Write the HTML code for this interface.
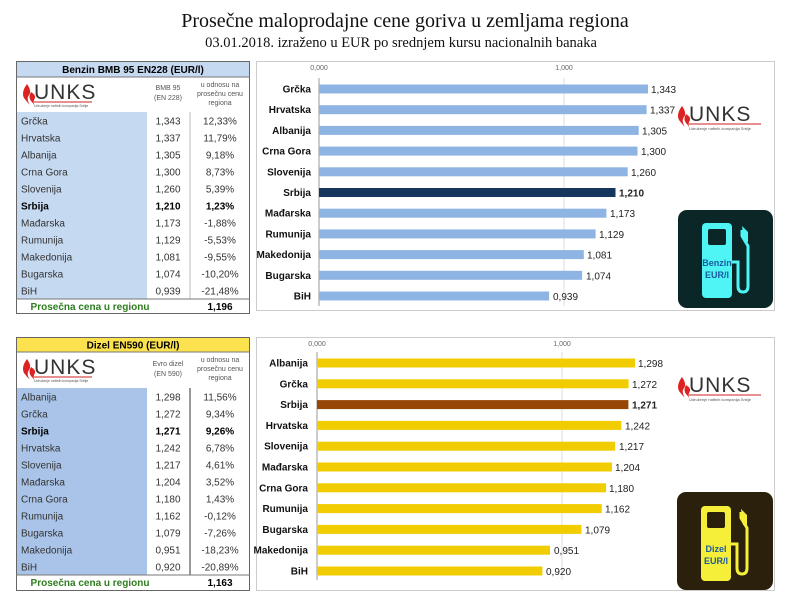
<!DOCTYPE html>
<html><head><meta charset="utf-8"><style>
html,body{margin:0;padding:0;background:#fff;}
svg{display:block;font-family:"Liberation Sans",sans-serif;}
.t{font-size:10px;fill:#333;}
.c{text-anchor:middle;}
.b{font-weight:bold;fill:#000;}
.lab{font-size:10px;font-weight:bold;text-anchor:end;fill:#111;}
.val{font-size:10px;fill:#222;}
.tick{font-size:7px;fill:#666;text-anchor:middle;}
.sm{font-size:7px;fill:#555;text-anchor:middle;}
</style></head><body>
<svg width="805" height="599" viewBox="0 0 805 599">
<text x="405" y="27" text-anchor="middle" style="font-family:'Liberation Serif',serif;font-size:20px" fill="#111">Prosečne maloprodajne cene goriva u zemljama regiona</text>
<text x="401" y="47" text-anchor="middle" style="font-family:'Liberation Serif',serif;font-size:14.5px" fill="#111">03.01.2018. izraženo u EUR po srednjem kursu nacionalnih banaka</text>

<!-- TOP TABLE -->
<rect x="16.5" y="61.5" width="233" height="252" fill="#fff" stroke="#666"/>
<rect x="17" y="62" width="232" height="15" fill="#c5d9f1"/>
<line x1="16" y1="77" x2="250" y2="77" stroke="#777"/>
<text x="133" y="73" class="t c b" style="font-size:10px">Benzin BMB 95 EN228 (EUR/l)</text>
<rect x="17" y="112" width="130" height="187" fill="#c5d9f1"/>
<line x1="190" y1="112" x2="190" y2="299" stroke="#bbb"/>
<line x1="16" y1="299" x2="250" y2="299" stroke="#777"/>
<g id="logo1">
<path d="M27 84 q-6 8 -3 14 q3 4 6 7 q-4 -6 -1 -10 q3 -4 -2 -11z" fill="#d22"/>
<path d="M31 92 q-3 5 0 9 q2 2 3 4 q-1 -4 1 -7 q1 -3 -4 -6z" fill="#d22"/>
<text x="34" y="99" style="font-size:21px;letter-spacing:1px" fill="#333">UNKS</text>
<line x1="34" y1="102" x2="92" y2="102" stroke="#c22" stroke-width="1"/>
<text x="34" y="107" style="font-size:3.5px" fill="#555">Udruženje naftnih kompanija Srbije</text>
</g>
<text x="168" y="90" class="sm">BMB 95</text><text x="168" y="100" class="sm">(EN 228)</text>
<text x="220" y="87" class="sm">u odnosu na</text><text x="220" y="96" class="sm">prosečnu cenu</text><text x="220" y="105" class="sm">regiona</text>
<g class="t">
<text x="21" y="124.5">Grčka</text><text x="168" y="124.5" class="c">1,343</text><text x="220" y="124.5" class="c">12,33%</text>
<text x="21" y="141.5">Hrvatska</text><text x="168" y="141.5" class="c">1,337</text><text x="220" y="141.5" class="c">11,79%</text>
<text x="21" y="158.5">Albanija</text><text x="168" y="158.5" class="c">1,305</text><text x="220" y="158.5" class="c">9,18%</text>
<text x="21" y="175.5">Crna Gora</text><text x="168" y="175.5" class="c">1,300</text><text x="220" y="175.5" class="c">8,73%</text>
<text x="21" y="192.5">Slovenija</text><text x="168" y="192.5" class="c">1,260</text><text x="220" y="192.5" class="c">5,39%</text>
<text x="21" y="209.5" class="b">Srbija</text><text x="168" y="209.5" class="c b">1,210</text><text x="220" y="209.5" class="c b">1,23%</text>
<text x="21" y="226.5">Mađarska</text><text x="168" y="226.5" class="c">1,173</text><text x="220" y="226.5" class="c">-1,88%</text>
<text x="21" y="243.5">Rumunija</text><text x="168" y="243.5" class="c">1,129</text><text x="220" y="243.5" class="c">-5,53%</text>
<text x="21" y="260.5">Makedonija</text><text x="168" y="260.5" class="c">1,081</text><text x="220" y="260.5" class="c">-9,55%</text>
<text x="21" y="277.5">Bugarska</text><text x="168" y="277.5" class="c">1,074</text><text x="220" y="277.5" class="c">-10,20%</text>
<text x="21" y="294.5">BiH</text><text x="168" y="294.5" class="c">0,939</text><text x="220" y="294.5" class="c">-21,48%</text>
</g>
<text x="90" y="310" class="t c" style="font-weight:bold;fill:#2e7d1e">Prosečna cena u regionu</text>
<text x="220" y="310" class="t c b">1,196</text>

<!-- TOP CHART -->
<rect x="256.5" y="61.5" width="518" height="249" fill="#fff" stroke="#ccc"/>
<text x="319" y="70" class="tick">0,000</text><text x="564" y="70" class="tick">1,000</text>
<line x1="564" y1="78" x2="564" y2="306" stroke="#ddd"/>
<line x1="319" y1="78" x2="319" y2="306" stroke="#999"/>
<g fill="#8db4e2">
<rect x="319" y="84.5" width="329" height="9"/>
<rect x="319" y="105.2" width="327.6" height="9"/>
<rect x="319" y="125.9" width="319.7" height="9"/>
<rect x="319" y="146.6" width="318.5" height="9"/>
<rect x="319" y="167.3" width="308.7" height="9"/>
<rect x="319" y="188" width="296.5" height="9" fill="#17365d"/>
<rect x="319" y="208.7" width="287.4" height="9"/>
<rect x="319" y="229.4" width="276.6" height="9"/>
<rect x="319" y="250.1" width="264.8" height="9"/>
<rect x="319" y="270.8" width="263.1" height="9"/>
<rect x="319" y="291.5" width="230.1" height="9"/>
</g>
<g>
<text x="311" y="92.5" class="lab">Grčka</text><text x="651" y="93" class="val">1,343</text>
<text x="311" y="113.2" class="lab">Hrvatska</text><text x="650" y="113.7" class="val">1,337</text>
<text x="311" y="133.9" class="lab">Albanija</text><text x="642" y="134.4" class="val">1,305</text>
<text x="311" y="154.6" class="lab">Crna Gora</text><text x="641" y="155.1" class="val">1,300</text>
<text x="311" y="175.3" class="lab">Slovenija</text><text x="631" y="175.8" class="val">1,260</text>
<text x="311" y="196" class="lab">Srbija</text><text x="619" y="196.5" class="val" font-weight="bold">1,210</text>
<text x="311" y="216.7" class="lab">Mađarska</text><text x="610" y="217.2" class="val">1,173</text>
<text x="311" y="237.4" class="lab">Rumunija</text><text x="599" y="237.9" class="val">1,129</text>
<text x="311" y="258.1" class="lab">Makedonija</text><text x="587" y="258.6" class="val">1,081</text>
<text x="311" y="278.8" class="lab">Bugarska</text><text x="586" y="279.3" class="val">1,074</text>
<text x="311" y="299.5" class="lab">BiH</text><text x="553" y="300" class="val">0,939</text>
</g>
<g transform="translate(655,22)">
<path d="M27 84 q-6 8 -3 14 q3 4 6 7 q-4 -6 -1 -10 q3 -4 -2 -11z" fill="#d22"/>
<path d="M31 92 q-3 5 0 9 q2 2 3 4 q-1 -4 1 -7 q1 -3 -4 -6z" fill="#d22"/>
<text x="34" y="99" style="font-size:21px;letter-spacing:1px" fill="#333">UNKS</text>
<line x1="34" y1="102" x2="106" y2="102" stroke="#c22"/>
<text x="34" y="108" style="font-size:4px" fill="#555">Udruženje naftnih kompanija Srbije</text>
</g>
<rect x="678" y="210" width="95" height="98" rx="9" fill="#0b2626"/>
<g>
<rect x="702" y="223" width="30" height="75" rx="4" fill="#4ff5f5"/>
<rect x="708" y="229" width="18" height="16" rx="2" fill="#0b2626"/>
<path d="M732 262 h6 v24 q0 6 5 6 q5 0 5 -6 v-40 l-6 -10 v-6" fill="none" stroke="#4ff5f5" stroke-width="3"/>
<path d="M742 226 l6 6 v10 h-4 z" fill="#4ff5f5"/>
<text x="717" y="266" class="c" style="font-size:9px;font-weight:bold" fill="#1a5aa0">Benzin</text>
<text x="717" y="278" class="c" style="font-size:9px;font-weight:bold" fill="#1a5aa0">EUR/l</text>
</g>

<!-- BOTTOM TABLE -->
<rect x="16.5" y="337.5" width="233" height="253" fill="#fff" stroke="#666"/>
<rect x="17" y="338" width="232" height="14" fill="#fde24f"/>
<line x1="16" y1="352" x2="250" y2="352" stroke="#777"/>
<text x="133" y="348.5" class="t c b">Dizel EN590 (EUR/l)</text>
<rect x="17" y="388" width="130" height="187" fill="#a9c4e8"/>
<line x1="190" y1="388" x2="190" y2="575" stroke="#333"/>
<line x1="16" y1="575" x2="250" y2="575" stroke="#777"/>
<g transform="translate(0,275)">
<path d="M27 84 q-6 8 -3 14 q3 4 6 7 q-4 -6 -1 -10 q3 -4 -2 -11z" fill="#d22"/>
<path d="M31 92 q-3 5 0 9 q2 2 3 4 q-1 -4 1 -7 q1 -3 -4 -6z" fill="#d22"/>
<text x="34" y="99" style="font-size:21px;letter-spacing:1px" fill="#333">UNKS</text>
<line x1="34" y1="102" x2="92" y2="102" stroke="#c22"/>
<text x="34" y="107" style="font-size:3.5px" fill="#555">Udruženje naftnih kompanija Srbije</text>
</g>
<text x="168" y="366" class="sm">Evro dizel</text><text x="168" y="376" class="sm">(EN 590)</text>
<text x="220" y="362" class="sm">u odnosu na</text><text x="220" y="371" class="sm">prosečnu cenu</text><text x="220" y="380" class="sm">regiona</text>
<g class="t">
<text x="21" y="400.5">Albanija</text><text x="168" y="400.5" class="c">1,298</text><text x="220" y="400.5" class="c">11,56%</text>
<text x="21" y="417.5">Grčka</text><text x="168" y="417.5" class="c">1,272</text><text x="220" y="417.5" class="c">9,34%</text>
<text x="21" y="434.5" class="b">Srbija</text><text x="168" y="434.5" class="c b">1,271</text><text x="220" y="434.5" class="c b">9,26%</text>
<text x="21" y="451.5">Hrvatska</text><text x="168" y="451.5" class="c">1,242</text><text x="220" y="451.5" class="c">6,78%</text>
<text x="21" y="468.5">Slovenija</text><text x="168" y="468.5" class="c">1,217</text><text x="220" y="468.5" class="c">4,61%</text>
<text x="21" y="485.5">Mađarska</text><text x="168" y="485.5" class="c">1,204</text><text x="220" y="485.5" class="c">3,52%</text>
<text x="21" y="502.5">Crna Gora</text><text x="168" y="502.5" class="c">1,180</text><text x="220" y="502.5" class="c">1,43%</text>
<text x="21" y="519.5">Rumunija</text><text x="168" y="519.5" class="c">1,162</text><text x="220" y="519.5" class="c">-0,12%</text>
<text x="21" y="536.5">Bugarska</text><text x="168" y="536.5" class="c">1,079</text><text x="220" y="536.5" class="c">-7,26%</text>
<text x="21" y="553.5">Makedonija</text><text x="168" y="553.5" class="c">0,951</text><text x="220" y="553.5" class="c">-18,23%</text>
<text x="21" y="570.5">BiH</text><text x="168" y="570.5" class="c">0,920</text><text x="220" y="570.5" class="c">-20,89%</text>
</g>
<text x="90" y="586" class="t c" style="font-weight:bold;fill:#2e7d1e">Prosečna cena u regionu</text>
<text x="220" y="586" class="t c b">1,163</text>

<!-- BOTTOM CHART -->
<rect x="256.5" y="337.5" width="518" height="253" fill="#fff" stroke="#ccc"/>
<text x="317" y="346" class="tick">0,000</text><text x="562" y="346" class="tick">1,000</text>
<line x1="562" y1="352" x2="562" y2="580" stroke="#ddd"/>
<line x1="317" y1="352" x2="317" y2="580" stroke="#999"/>
<g fill="#f0cc00">
<rect x="317" y="358.5" width="318" height="9"/>
<rect x="317" y="379.3" width="311.6" height="9"/>
<rect x="317" y="400.1" width="311.4" height="9" fill="#974706"/>
<rect x="317" y="420.9" width="304.3" height="9"/>
<rect x="317" y="441.7" width="298.2" height="9"/>
<rect x="317" y="462.5" width="295" height="9"/>
<rect x="317" y="483.3" width="289.1" height="9"/>
<rect x="317" y="504.1" width="284.7" height="9"/>
<rect x="317" y="524.9" width="264.4" height="9"/>
<rect x="317" y="545.7" width="233" height="9"/>
<rect x="317" y="566.5" width="225.4" height="9"/>
</g>
<g>
<text x="308" y="366.5" class="lab">Albanija</text><text x="638" y="367" class="val">1,298</text>
<text x="308" y="387.3" class="lab">Grčka</text><text x="632" y="387.8" class="val">1,272</text>
<text x="308" y="408.1" class="lab">Srbija</text><text x="632" y="408.6" class="val" font-weight="bold">1,271</text>
<text x="308" y="428.9" class="lab">Hrvatska</text><text x="625" y="429.4" class="val">1,242</text>
<text x="308" y="449.7" class="lab">Slovenija</text><text x="619" y="450.2" class="val">1,217</text>
<text x="308" y="470.5" class="lab">Mađarska</text><text x="615" y="471" class="val">1,204</text>
<text x="308" y="491.3" class="lab">Crna Gora</text><text x="609" y="491.8" class="val">1,180</text>
<text x="308" y="512.1" class="lab">Rumunija</text><text x="605" y="512.6" class="val">1,162</text>
<text x="308" y="532.9" class="lab">Bugarska</text><text x="585" y="533.4" class="val">1,079</text>
<text x="308" y="553.7" class="lab">Makedonija</text><text x="554" y="554.2" class="val">0,951</text>
<text x="308" y="574.5" class="lab">BiH</text><text x="546" y="575" class="val">0,920</text>
</g>
<g transform="translate(655,293)">
<path d="M27 84 q-6 8 -3 14 q3 4 6 7 q-4 -6 -1 -10 q3 -4 -2 -11z" fill="#d22"/>
<path d="M31 92 q-3 5 0 9 q2 2 3 4 q-1 -4 1 -7 q1 -3 -4 -6z" fill="#d22"/>
<text x="34" y="99" style="font-size:21px;letter-spacing:1px" fill="#333">UNKS</text>
<line x1="34" y1="102" x2="106" y2="102" stroke="#c22"/>
<text x="34" y="108" style="font-size:4px" fill="#555">Udruženje naftnih kompanija Srbije</text>
</g>
<rect x="677" y="492" width="96" height="98" rx="9" fill="#2a200c"/>
<g>
<rect x="701" y="506" width="30" height="75" rx="4" fill="#f5ef3a"/>
<rect x="707" y="512" width="18" height="16" rx="2" fill="#2a200c"/>
<path d="M731 544 h6 v24 q0 6 5 6 q5 0 5 -6 v-40 l-6 -10 v-6" fill="none" stroke="#f5ef3a" stroke-width="3"/>
<path d="M741 509 l6 6 v10 h-4 z" fill="#f5ef3a"/>
<text x="716" y="552" class="c" style="font-size:9px;font-weight:bold" fill="#1a5aa0">Dizel</text>
<text x="716" y="564" class="c" style="font-size:9px;font-weight:bold" fill="#1a5aa0">EUR/l</text>
</g>
</svg>
</body></html>
